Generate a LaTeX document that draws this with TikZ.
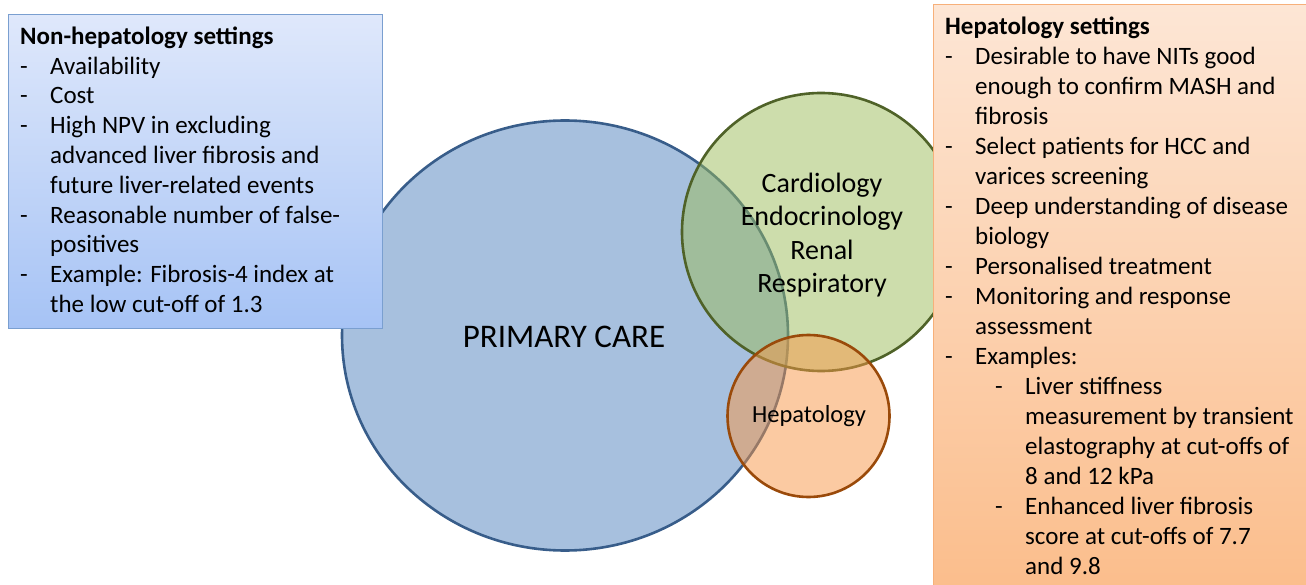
\documentclass[tikz,border=0pt]{standalone}
\usepackage{fontspec}
\setmainfont{Carlito}
\usetikzlibrary{shapes.geometric}

\definecolor{pcfill}{HTML}{4F81BD}
\definecolor{pcline}{HTML}{385D8A}
\definecolor{spfill}{HTML}{9BBB59}
\definecolor{spline}{HTML}{4F6228}
\definecolor{hpfill}{HTML}{F79646}
\definecolor{hpline}{HTML}{9A4A0A}
\definecolor{nhtop}{HTML}{DFE8FB}
\definecolor{nhbot}{HTML}{A6C3F5}
\definecolor{nhline}{HTML}{7A9FD0}
\definecolor{hstop}{HTML}{FDE6D5}
\definecolor{hsbot}{HTML}{FBBD8B}
\definecolor{hsline}{HTML}{F7B07A}

% dash bullets with hanging text
\newcommand{\dashline}[1]{\makebox[30pt][l]{-}#1}
\newcommand{\contline}[1]{\hspace*{30pt}#1}
\newcommand{\subdash}[1]{\hspace*{50pt}\makebox[30pt][l]{-}#1}
\newcommand{\subcont}[1]{\hspace*{80pt}#1}

\begin{document}
\begin{tikzpicture}[x=1pt,y=-1pt,
  settingbox/.style={draw, line width=1pt, inner sep=0pt, anchor=north west},
  % the base anchor of a multi-line node sits on its last line
  listtext/.style={anchor=base west, inner sep=0pt, align=left,
    font=\fontsize{25}{29.8}\selectfont},
  area/.style={line width=2.6pt, fill opacity=0.5, inner sep=0pt},
  arealabel/.style={inner sep=0pt, align=center},
]
\useasboundingbox (0,0) rectangle (1306,585);
\clip (0,0) rectangle (1306,585);

% Overlapping care areas
\node[area, ellipse, draw=pcline, fill=pcfill,
  minimum width=446pt, minimum height=430pt] (primary) at (565,335.5) {};
\node[arealabel, font=\fontsize{33}{38}\selectfont] (primarylabel) at (564,337) {PRIMARY CARE};

\node[area, circle, draw=spline, fill=spfill, minimum size=278pt] (specialty) at (821,232) {};
\node[arealabel, font=\fontsize{28}{33.5}\selectfont] (specialtylabel) at (822,235)
  {Cardiology\\Endocrinology\\Renal\\Respiratory};

\node[area, circle, draw=hpline, fill=hpfill, minimum size=162pt] (hepatology) at (808.5,416) {};
\node[arealabel, font=\fontsize{24.5}{28}\selectfont] (hepatologylabel) at (809,416) {Hepatology};

% Non-hepatology settings box
\node[settingbox, draw=nhline, top color=nhtop, bottom color=nhbot,
  minimum width=374pt, minimum height=314pt] (nonhepbox) at (8,14) {};
\node[listtext] (nonheptext) at (20,312.5) {%
  \textbf{Non-hepatology settings}\\
  \dashline{Availability}\\
  \dashline{Cost}\\
  \dashline{High NPV in excluding}\\
  \contline{advanced liver fibrosis and}\\
  \contline{future liver-related events}\\
  \dashline{Reasonable number of false-}\\
  \contline{positives}\\
  \dashline{Example: Fibrosis-4 index at}\\
  \contline{the low cut-off of 1.3}};

% Hepatology settings box
\node[settingbox, draw=hsline, top color=hstop, bottom color=hsbot,
  minimum width=380pt, minimum height=590pt] (hepbox) at (933,4) {};
\node[listtext, font=\fontsize{25}{30}\selectfont] (heptext) at (945,574) {%
  \textbf{Hepatology settings}\\
  \dashline{Desirable to have NITs good}\\
  \contline{enough to confirm MASH and}\\
  \contline{fibrosis}\\
  \dashline{Select patients for HCC and}\\
  \contline{varices screening}\\
  \dashline{Deep understanding of disease}\\
  \contline{biology}\\
  \dashline{Personalised treatment}\\
  \dashline{Monitoring and response}\\
  \contline{assessment}\\
  \dashline{Examples:}\\
  \subdash{Liver stiffness}\\
  \subcont{measurement by transient}\\
  \subcont{elastography at cut-offs of}\\
  \subcont{8 and 12 kPa}\\
  \subdash{Enhanced liver fibrosis}\\
  \subcont{score at cut-offs of 7.7}\\
  \subcont{and 9.8}};
\end{tikzpicture}
\end{document}
